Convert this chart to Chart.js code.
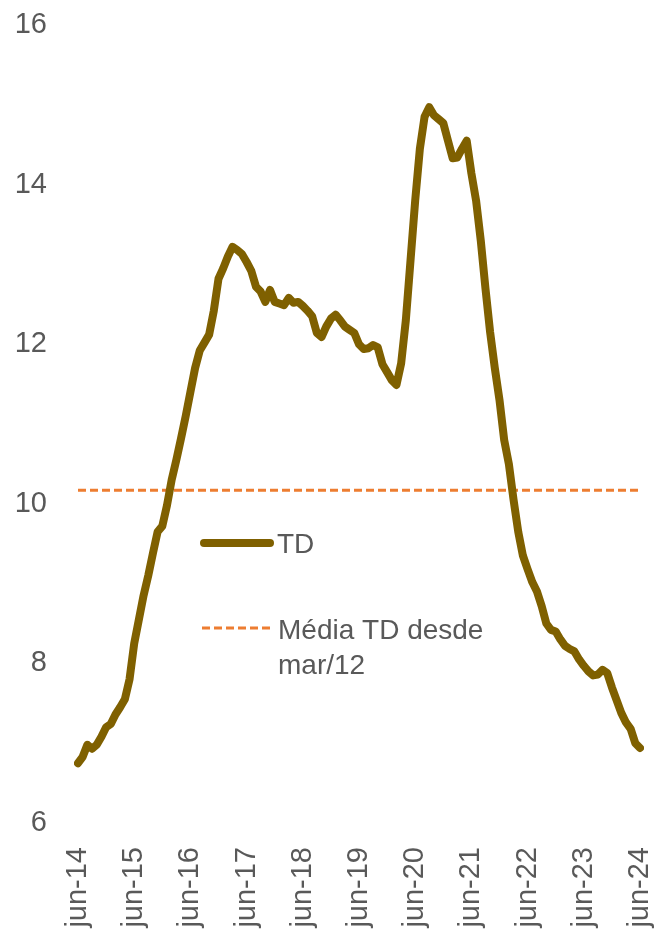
<!DOCTYPE html>
<html>
<head>
<meta charset="utf-8">
<script src="https://cdn.jsdelivr.net/npm/chart.js@4"></script>
<style>
  html, body { margin: 0; padding: 0; background: #fff; }
  #wrap { position: relative; width: 658px; height: 932px; }
</style>
</head>
<body>
<div id="wrap"><canvas id="tdChart" width="658" height="932"></canvas></div>
<script>
// Tick labels shown on the x axis (one every 12 months)
const tickLabels = ["jun-14", "jun-15", "jun-16", "jun-17", "jun-18", "jun-19",
  "jun-20", "jun-21", "jun-22", "jun-23", "jun-24"];

// Monthly TD values, jun-14 .. jun-24
const tdValues = [
  6.75, 6.83, 6.98, 6.93, 6.98, 7.08, 7.20, 7.24, 7.36, 7.45, 7.55, 7.80,
  8.25, 8.55, 8.85, 9.10, 9.38, 9.65, 9.72, 9.98, 10.30, 10.55, 10.82, 11.10,
  11.40, 11.70, 11.92, 12.02, 12.12, 12.42, 12.82, 12.95, 13.10, 13.22, 13.18, 13.13,
  13.03, 12.92, 12.72, 12.66, 12.53, 12.68, 12.53, 12.51, 12.49, 12.58, 12.52, 12.53,
  12.48, 12.42, 12.35, 12.14, 12.09, 12.22, 12.32, 12.37, 12.30, 12.22, 12.18, 12.14,
  12.00, 11.94, 11.95, 11.99, 11.96, 11.75, 11.65, 11.55, 11.49, 11.76, 12.30, 13.05,
  13.80, 14.45, 14.85, 14.97, 14.87, 14.82, 14.77, 14.55, 14.33, 14.34, 14.45, 14.55,
  14.14, 13.80, 13.30, 12.70, 12.15, 11.70, 11.30, 10.80, 10.50, 10.05, 9.65, 9.35,
  9.18, 9.02, 8.90, 8.72, 8.50, 8.42, 8.40, 8.30, 8.22, 8.18, 8.15, 8.05,
  7.97, 7.90, 7.85, 7.86, 7.92, 7.88, 7.70, 7.54, 7.38, 7.26, 7.18, 7.00,
  6.94
];

// Average TD since mar/12
const mediaDesdeMar12 = 10.17;

const monthNames = ["jan", "fev", "mar", "abr", "mai", "jun", "jul", "ago", "set", "out", "nov", "dez"];

var labels = [];
for (let i = 0; i < tdValues.length; i++) {
  let m = (5 + i) % 12;
  let y = 14 + Math.floor((5 + i) / 12);
  labels.push(monthNames[m] + "-" + y);
}

const TEXT_COLOR = "#595959";
const FONT = "'Liberation Sans', Arial, sans-serif";

// Legend drawn inside the plot area
const innerLegend = {
  id: "innerLegend",
  afterDraw(chart) {
    const ctx = chart.ctx;
    ctx.save();
    ctx.lineCap = "round";
    ctx.strokeStyle = "#7F6000";
    ctx.lineWidth = 8;
    ctx.beginPath();
    ctx.moveTo(204, 543);
    ctx.lineTo(270, 543);
    ctx.stroke();

    ctx.lineCap = "butt";
    ctx.strokeStyle = "#ED7D31";
    ctx.lineWidth = 3;
    ctx.setLineDash([8, 4]);
    ctx.beginPath();
    ctx.moveTo(202, 628);
    ctx.lineTo(272, 628);
    ctx.stroke();
    ctx.setLineDash([]);

    ctx.fillStyle = TEXT_COLOR;
    ctx.font = "28px " + FONT;
    ctx.textBaseline = "middle";
    ctx.textAlign = "left";
    ctx.fillText("TD", 277, 545);
    ctx.fillText("Média TD desde", 278, 631);
    ctx.fillText("mar/12", 278, 666);
    ctx.restore();
  },
};

const ctx = document.getElementById("tdChart").getContext("2d");
const chart = new Chart(ctx, {
  type: "line",
  data: {
    labels: labels,
    datasets: [
      {
        label: "TD",
        data: tdValues,
        borderColor: "#7F6000",
        borderWidth: 8,
        pointRadius: 0,
        borderCapStyle: "round",
        borderJoinStyle: "round",
        tension: 0,
      },
      {
        label: "Média TD desde mar/12",
        data: tdValues.map(() => mediaDesdeMar12),
        borderColor: "#ED7D31",
        borderWidth: 3,
        borderDash: [8, 4],
        pointRadius: 0,
      },
    ],
  },
  options: {
    responsive: false,
    animation: false,
    layout: { padding: { left: 8, right: 18, top: 25, bottom: 0 } },
    plugins: {
      legend: { display: false },
      tooltip: { enabled: false },
    },
    scales: {
      x: {
        grid: { display: false, drawTicks: false },
        border: { display: false },
        afterFit: function (scale) {
          scale.height = 109;
          scale.paddingLeft = 0;
          scale.paddingRight = 0;
        },
        ticks: {
          autoSkip: false,
          maxRotation: 90,
          minRotation: 90,
          padding: 24,
          color: TEXT_COLOR,
          font: { family: FONT, size: 29 },
          callback: function (v, i) {
            return i % 12 === 0 ? tickLabels[i / 12] : null;
          },
        },
      },
      y: {
        min: 6,
        max: 16,
        grid: { display: false, drawTicks: false },
        border: { display: false },
        afterFit: function (scale) {
          scale.width = 70;
          scale.paddingTop = 0;
          scale.paddingBottom = 0;
        },
        ticks: {
          stepSize: 2,
          padding: 31,
          color: TEXT_COLOR,
          font: { family: FONT, size: 29 },
        },
      },
    },
  },
  plugins: [innerLegend],
});
</script>
</body>
</html>
